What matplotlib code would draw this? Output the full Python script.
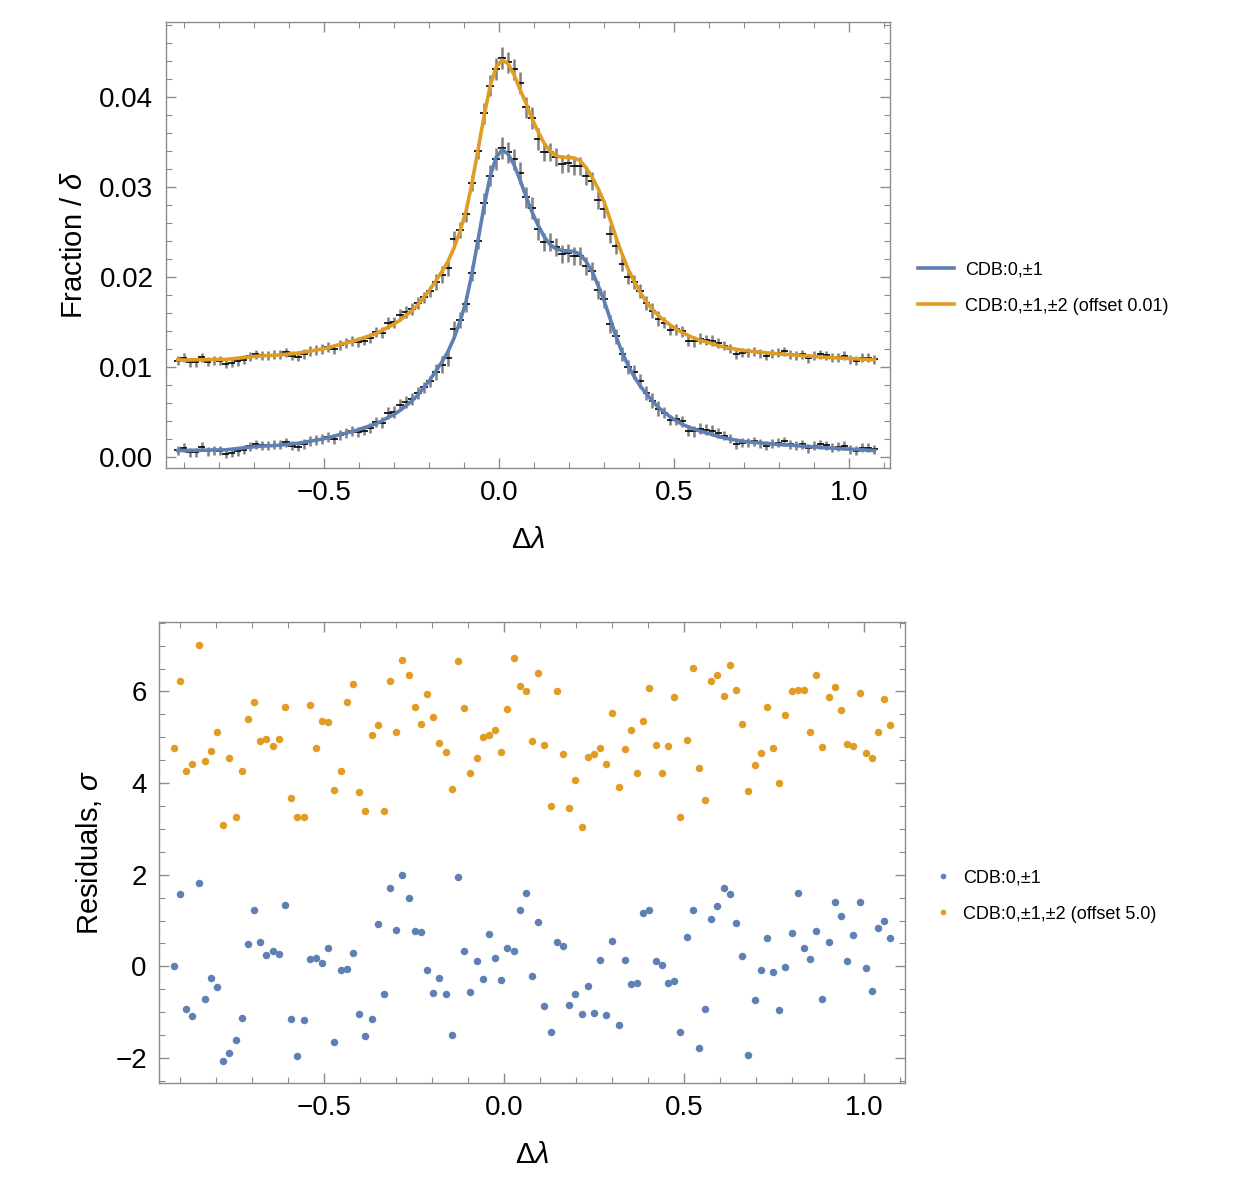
import numpy as np
import matplotlib
matplotlib.use("Agg")
import matplotlib.pyplot as plt
from matplotlib.ticker import MultipleLocator

plt.rcParams["font.family"] = ["Liberation Sans", "DejaVu Sans"]
plt.rcParams["mathtext.fontset"] = "custom"
plt.rcParams["mathtext.it"] = "Liberation Sans:italic"
plt.rcParams["mathtext.rm"] = "Liberation Sans"

# bin centres (117 bins)
lam = np.round(np.linspace(-0.9175, 1.0725, 117), 4)
half_bin = 0.0105

# measured fraction per bin (CDB data, no offset)
frac = [0.00074, 0.00106, 0.00055, 0.00055, 0.00113, 0.00063, 0.00076, 0.00072, 0.00040, 0.00051,
        0.00064, 0.00081, 0.00121, 0.00143, 0.00133, 0.00131, 0.00136, 0.00138, 0.00167, 0.00125,
        0.00116, 0.00143, 0.00180, 0.00193, 0.00202, 0.00222, 0.00200, 0.00250, 0.00265, 0.00291,
        0.00282, 0.00296, 0.00325, 0.00388, 0.00385, 0.00491, 0.00498, 0.00578, 0.00615, 0.00649,
        0.00714, 0.00775, 0.00842, 0.00946, 0.01029, 0.01099, 0.01419, 0.01524, 0.01701, 0.02050,
        0.02400, 0.02821, 0.03128, 0.03315, 0.03435, 0.03387, 0.03310, 0.03161, 0.02886, 0.02771,
        0.02534, 0.02387, 0.02387, 0.02334, 0.02258, 0.02265, 0.02238, 0.02236, 0.02129, 0.02069,
        0.01859, 0.01762, 0.01479, 0.01343, 0.01146, 0.01001, 0.00948, 0.00847, 0.00712, 0.00628,
        0.00539, 0.00492, 0.00412, 0.00419, 0.00397, 0.00292, 0.00288, 0.00315, 0.00303, 0.00295,
        0.00269, 0.00238, 0.00206, 0.00141, 0.00159, 0.00168, 0.00178, 0.00156, 0.00128, 0.00148,
        0.00158, 0.00177, 0.00143, 0.00133, 0.00142, 0.00100, 0.00127, 0.00142, 0.00131, 0.00103,
        0.00113, 0.00127, 0.00088, 0.00072, 0.00102, 0.00102, 0.00090]

# error bars on the measured fractions
err = [0.00050, 0.00050, 0.00050, 0.00050, 0.00050, 0.00050, 0.00050, 0.00050, 0.00050, 0.00050,
       0.00050, 0.00050, 0.00050, 0.00050, 0.00050, 0.00050, 0.00050, 0.00050, 0.00050, 0.00050,
       0.00050, 0.00055, 0.00055, 0.00055, 0.00055, 0.00055, 0.00055, 0.00055, 0.00055, 0.00055,
       0.00055, 0.00055, 0.00055, 0.00055, 0.00065, 0.00065, 0.00065, 0.00065, 0.00065, 0.00065,
       0.00065, 0.00065, 0.00065, 0.00090, 0.00090, 0.00090, 0.00090, 0.00090, 0.00090, 0.00090,
       0.00090, 0.00120, 0.00120, 0.00120, 0.00120, 0.00120, 0.00120, 0.00120, 0.00120, 0.00120,
       0.00120, 0.00100, 0.00100, 0.00100, 0.00100, 0.00100, 0.00100, 0.00100, 0.00100, 0.00100,
       0.00100, 0.00100, 0.00100, 0.00080, 0.00080, 0.00080, 0.00080, 0.00080, 0.00080, 0.00080,
       0.00080, 0.00060, 0.00060, 0.00060, 0.00060, 0.00060, 0.00060, 0.00060, 0.00060, 0.00060,
       0.00060, 0.00050, 0.00050, 0.00050, 0.00050, 0.00050, 0.00050, 0.00050, 0.00050, 0.00050,
       0.00050, 0.00050, 0.00050, 0.00050, 0.00050, 0.00050, 0.00050, 0.00050, 0.00050, 0.00050,
       0.00050, 0.00050, 0.00050, 0.00050, 0.00050, 0.00050, 0.00050]

# fitted model CDB:0,+-1
fit1 = [0.00074, 0.00074, 0.00074, 0.00077, 0.00077, 0.00077, 0.00081, 0.00081, 0.00081, 0.00089,
        0.00096, 0.00103, 0.00111, 0.00118, 0.00122, 0.00126, 0.00129, 0.00133, 0.00140, 0.00148,
        0.00155, 0.00166, 0.00177, 0.00189, 0.00200, 0.00214, 0.00233, 0.00252, 0.00266, 0.00285,
        0.00303, 0.00326, 0.00348, 0.00370, 0.00403, 0.00440, 0.00474, 0.00518, 0.00570, 0.00626,
        0.00692, 0.00777, 0.00859, 0.00959, 0.01059, 0.01174, 0.01322, 0.01507, 0.01729, 0.02044,
        0.02414, 0.02785, 0.03118, 0.03329, 0.03414, 0.03370, 0.03248, 0.03081, 0.02896, 0.02722,
        0.02577, 0.02452, 0.02363, 0.02314, 0.02296, 0.02292, 0.02285, 0.02255, 0.02174, 0.02063,
        0.01907, 0.01737, 0.01537, 0.01337, 0.01163, 0.01018, 0.00896, 0.00792, 0.00707, 0.00626,
        0.00555, 0.00500, 0.00448, 0.00403, 0.00366, 0.00337, 0.00311, 0.00289, 0.00270, 0.00252,
        0.00229, 0.00214, 0.00200, 0.00189, 0.00177, 0.00170, 0.00163, 0.00159, 0.00152, 0.00148,
        0.00140, 0.00137, 0.00133, 0.00129, 0.00122, 0.00118, 0.00114, 0.00107, 0.00103, 0.00100,
        0.00096, 0.00092, 0.00089, 0.00085, 0.00081, 0.00077, 0.00074]

# fitted model CDB:0,+-1,+-2 (before the 0.01 offset)
fit2 = [0.00080, 0.00080, 0.00080, 0.00083, 0.00083, 0.00083, 0.00086, 0.00086, 0.00086, 0.00093,
        0.00100, 0.00107, 0.00114, 0.00121, 0.00125, 0.00129, 0.00132, 0.00136, 0.00143, 0.00150,
        0.00157, 0.00168, 0.00179, 0.00190, 0.00201, 0.00215, 0.00234, 0.00253, 0.00267, 0.00286,
        0.00305, 0.00328, 0.00350, 0.00373, 0.00407, 0.00444, 0.00478, 0.00522, 0.00574, 0.00630,
        0.00696, 0.00780, 0.00862, 0.00962, 0.01062, 0.01177, 0.01325, 0.01510, 0.01732, 0.02047,
        0.02417, 0.02788, 0.03121, 0.03331, 0.03414, 0.03372, 0.03251, 0.03085, 0.02930, 0.02760,
        0.02617, 0.02490, 0.02400, 0.02350, 0.02333, 0.02330, 0.02325, 0.02295, 0.02215, 0.02110,
        0.01985, 0.01835, 0.01640, 0.01437, 0.01253, 0.01088, 0.00956, 0.00832, 0.00727, 0.00646,
        0.00575, 0.00520, 0.00468, 0.00423, 0.00386, 0.00352, 0.00321, 0.00299, 0.00280, 0.00262,
        0.00239, 0.00224, 0.00210, 0.00199, 0.00187, 0.00180, 0.00173, 0.00167, 0.00160, 0.00155,
        0.00147, 0.00143, 0.00139, 0.00135, 0.00128, 0.00124, 0.00120, 0.00113, 0.00109, 0.00106,
        0.00102, 0.00099, 0.00096, 0.00092, 0.00088, 0.00085, 0.00081]

# residuals in units of sigma
res1 = [0.01, 1.58, -0.93, -1.08, 1.81, -0.72, -0.26, -0.44, -2.06, -1.90,
        -1.60, -1.12, 0.49, 1.24, 0.54, 0.24, 0.33, 0.26, 1.35, -1.15,
        -1.95, -1.17, 0.15, 0.19, 0.08, 0.41, -1.66, -0.09, -0.05, 0.30,
        -1.04, -1.52, -1.15, 0.92, -0.61, 1.70, 0.79, 1.99, 1.49, 0.78,
        0.74, -0.07, -0.58, -0.26, -0.60, -1.50, 1.94, 0.33, -0.56, 0.12,
        -0.28, 0.71, 0.19, -0.29, 0.41, 0.34, 1.23, 1.60, -0.21, 0.97,
        -0.87, -1.44, 0.53, 0.45, -0.84, -0.60, -1.04, -0.43, -1.01, 0.13,
        -1.07, 0.55, -1.29, 0.14, -0.38, -0.37, 1.16, 1.22, 0.11, 0.04,
        -0.36, -0.32, -1.44, 0.65, 1.22, -1.79, -0.94, 1.03, 1.31, 1.71,
        1.58, 0.94, 0.23, -1.93, -0.74, -0.09, 0.61, -0.13, -0.96, -0.01,
        0.73, 1.60, 0.40, 0.17, 0.78, -0.72, 0.53, 1.41, 1.11, 0.12,
        0.69, 1.41, -0.03, -0.54, 0.83, 0.99, 0.62]

res2 = [-0.23, 1.24, -0.74, -0.58, 2.01, -0.51, -0.29, 0.11, -1.92, -0.45,
        -1.74, -0.74, 0.40, 0.78, -0.08, -0.04, -0.20, -0.03, 0.67, -1.33,
        -1.75, -1.74, 0.70, -0.24, 0.35, 0.34, -1.14, -0.74, 0.76, 1.16,
        -1.20, -1.60, 0.04, 0.26, -1.60, 1.22, 0.11, 1.69, 1.37, 0.66,
        0.28, 0.94, 0.44, -0.12, -0.31, -1.12, 1.67, 0.63, -0.79, -0.45,
        0.01, 0.06, 0.17, -0.31, 0.62, 1.74, 1.13, 1.02, -0.07, 1.41,
        -0.17, -1.50, 1.02, -0.37, -1.55, -0.94, -1.96, -0.42, -0.37, -0.23,
        -0.58, 0.54, -1.09, -0.25, 0.15, -0.78, 0.36, 1.07, -0.16, -0.77,
        -0.18, 0.89, -1.73, -0.05, 1.52, -0.66, -1.36, 1.22, 1.35, 0.91,
        1.57, 1.03, 0.30, -1.17, -0.61, -0.34, 0.66, -0.23, -1.00, 0.49,
        1.00, 1.04, 1.04, 0.12, 1.37, -0.22, 0.89, 1.10, 0.60, -0.15,
        -0.20, 0.97, -0.35, -0.45, 0.11, 0.84, 0.27]

offset_frac = 0.01
offset_res = 5.0

BLUE = "#5E81B5"
ORANGE = "#E19C24"
FRAME = "#8c8c8c"


def style_axes(ax):
    for sp in ax.spines.values():
        sp.set_color(FRAME)
        sp.set_linewidth(1.0)
    ax.tick_params(which="both", direction="in", top=True, right=True,
                   color=FRAME, labelsize=20, pad=9)
    ax.tick_params(which="major", length=7, width=1.0)
    ax.tick_params(which="minor", length=4, width=0.8)


frac = np.array(frac)
fig = plt.figure(figsize=(12.5, 11.82), dpi=100)

# ---- top panel: data + fits
ax1 = fig.add_axes([0.1328, 0.6041, 0.5792, 0.3776])
for off in (0.0, offset_frac):
    ax1.errorbar(lam, frac + off, yerr=err, fmt="none", ecolor="#808080",
                 elinewidth=1.8, capsize=0, zorder=2)
    ax1.errorbar(lam, frac + off, xerr=half_bin, fmt="none", ecolor="black",
                 elinewidth=1.2, capsize=0, zorder=3)
ax1.plot(lam, fit1, color=BLUE, lw=2.6, label="CDB:0,\u00b11", zorder=4)
ax1.plot(lam, np.array(fit2) + offset_frac, color=ORANGE, lw=2.6,
         label="CDB:0,\u00b11,\u00b12 (offset 0.01)", zorder=4)
ax1.set_xlim(-0.951, 1.117)
ax1.set_ylim(-0.0012, 0.0484)
ax1.xaxis.set_major_locator(MultipleLocator(0.5))
ax1.xaxis.set_minor_locator(MultipleLocator(0.1))
ax1.yaxis.set_major_locator(MultipleLocator(0.01))
ax1.yaxis.set_minor_locator(MultipleLocator(0.002))
ax1.xaxis.set_major_formatter(lambda v, p: f"{v:.1f}".replace("-", "\u2212"))
ax1.yaxis.set_major_formatter(lambda v, p: f"{v:.2f}")
style_axes(ax1)
ax1.set_xlabel(r"$\Delta\lambda$", fontsize=21, labelpad=14)
ax1.set_ylabel(r"Fraction / $\delta$", fontsize=21, labelpad=8)
ax1.legend(loc="center left", bbox_to_anchor=(1.016, 0.403), frameon=False,
           fontsize=13, handlelength=2.0, handletextpad=0.6, labelspacing=1.05)

# ---- bottom panel: residuals
ax2 = fig.add_axes([0.1274, 0.0840, 0.5966, 0.3895])
ax2.plot(lam, res1, "o", color=BLUE, ms=5.4, mec="none", label="CDB:0,\u00b11")
ax2.plot(lam, np.array(res2) + offset_res, "o", color=ORANGE, ms=5.4, mec="none",
         label="CDB:0,\u00b11,\u00b12 (offset 5.0)")
ax2.set_xlim(-0.958, 1.113)
ax2.set_ylim(-2.54, 7.51)
ax2.xaxis.set_major_locator(MultipleLocator(0.5))
ax2.xaxis.set_minor_locator(MultipleLocator(0.1))
ax2.yaxis.set_major_locator(MultipleLocator(2))
ax2.yaxis.set_minor_locator(MultipleLocator(0.5))
ax2.xaxis.set_major_formatter(lambda v, p: f"{v:.1f}".replace("-", "\u2212"))
ax2.yaxis.set_major_formatter(lambda v, p: f"{v:.0f}".replace("-", "\u2212"))
style_axes(ax2)
ax2.set_xlabel(r"$\Delta\lambda$", fontsize=21, labelpad=14)
ax2.set_ylabel(r"Residuals, $\sigma$", fontsize=21, labelpad=8)
ax2.legend(loc="center left", bbox_to_anchor=(1.02, 0.405), frameon=False,
           fontsize=13, handlelength=0.8, handletextpad=0.7, labelspacing=1.05,
           markerscale=0.75)

fig.savefig("out.png", dpi=100, facecolor="white")
